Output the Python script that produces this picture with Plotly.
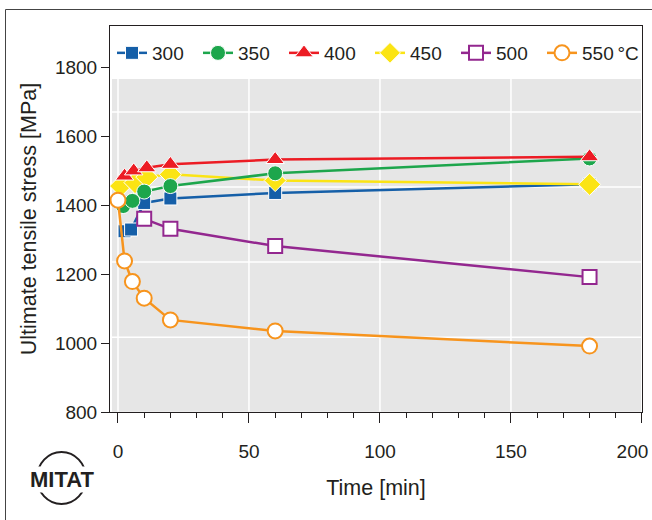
import plotly.graph_objects as go

# ---- data ----
t_300 = [2.5, 5, 10, 20, 60, 180]
v_300 = [1324, 1329, 1406, 1419, 1435, 1460]

t_350 = [2, 5.5, 10, 20, 60, 180]
v_350 = [1397, 1412, 1439, 1455, 1492, 1535]

t_400 = [2.5, 6, 11, 20, 60, 180]
v_400 = [1484, 1499, 1508, 1518, 1532, 1540]

t_450 = [1, 6.5, 11, 20, 60, 180]
v_450 = [1455, 1465, 1481, 1489, 1471, 1460]

t_500 = [10, 20, 60, 180]
v_500 = [1360, 1331, 1281, 1191]

t_550 = [0, 2.5, 5.5, 10, 20, 60, 180]
v_550 = [1414, 1238, 1178, 1130, 1067, 1035, 991]

legend_names = ["300", "350", "400", "450", "500", "550\u2009°C"]
y_ticks = [800, 1000, 1200, 1400, 1600, 1800]
x_ticks = [0, 50, 100, 150, 200]
x_ticktext = ["0", "50", "100", "150", "200\u2002\u2002"]
hgrid = [1017, 1235, 1452, 1670]
vgrid = [0, 50, 100, 150]

FONT = "Liberation Sans, Arial, Helvetica, sans-serif"
INK = "#231f20"

W, H = 652, 520
ML, MR, MT, MB = 110, 10, 26, 108
PW, PH = W - ML - MR, H - MT - MB


def px(xp):
    return (xp - ML) / PW


def py(yp):
    return (H - MB - yp) / PH


fig = go.Figure()

series = [
    # (name index, t, v, symbol, size, fill, line colour, marker line width)
    (0, t_300, v_300, "square", 13, "#155fa8", "#155fa8", 1),
    (3, t_450, v_450, "diamond", 17, "#fbe414", "#fbe414", 1),
    (1, t_350, v_350, "circle", 15, "#1da64c", "#1da64c", 1),
    (2, t_400, v_400, "triangle-up", 16, "#ec1c24", "#ec1c24", 1),
    (4, t_500, v_500, "square", 14, "white", "#93278f", 2),
    (5, t_550, v_550, "circle", 15, "white", "#f7941d", 2),
]

for idx, t, v, sym, size, fill, col, mlw in series:
    fig.add_trace(go.Scatter(
        x=t, y=v, name=legend_names[idx], legendrank=idx + 1,
        legend="legend2" if idx == 5 else "legend",
        mode="lines+markers",
        line=dict(color=col, width=2.5),
        marker=dict(symbol=sym, size=size, color=fill,
                    line=dict(color=col if fill == "white" else "white", width=mlw)),
    ))

shapes = []
# grey panel
shapes.append(dict(type="rect", xref="paper", yref="y", layer="below",
                   x0=px(112), x1=px(641), y0=801, y1=1765,
                   fillcolor="#e6e6e6", line=dict(width=0)))
for g in vgrid:
    shapes.append(dict(type="line", xref="x", yref="y", layer="below",
                       x0=g, x1=g, y0=801, y1=1765,
                       line=dict(color="white", width=1.5)))
for g in hgrid:
    shapes.append(dict(type="line", xref="paper", yref="y", layer="below",
                       x0=px(112), x1=px(641), y0=g, y1=g,
                       line=dict(color="white", width=1.5)))
# outer frame
shapes.append(dict(type="rect", xref="paper", yref="paper", layer="above",
                   x0=px(5.5), x1=px(700), y0=py(9.5), y1=py(560),
                   line=dict(color="#444", width=1)))
# logo ring
shapes.append(dict(type="circle", xref="paper", yref="paper", layer="above",
                   x0=px(37), x1=px(86), y0=py(452), y1=py(504),
                   line=dict(color=INK, width=2)))

legend_common = dict(orientation="h", xanchor="left", y=py(53), yanchor="middle",
                     bgcolor="rgba(0,0,0,0)", font=dict(size=19), itemwidth=30,
                     traceorder="normal")

fig.update_layout(
    width=W, height=H,
    margin=dict(l=ML, r=MR, t=MT, b=MB, autoexpand=False),
    paper_bgcolor="white", plot_bgcolor="white",
    font=dict(family=FONT, size=19, color=INK),
    shapes=shapes,
    showlegend=True,
    legend=dict(x=px(112), entrywidth=41, entrywidthmode="pixels", **legend_common),
    legend2=dict(x=px(542), **legend_common),
    annotations=[dict(text="<b>MITAT</b>", xref="paper", yref="paper",
                      x=px(62), y=py(479), xanchor="center", yanchor="middle",
                      showarrow=False,
                      font=dict(size=22, color=INK, family=FONT),
                      bgcolor="white", borderpad=0)],
)

fig.update_xaxes(
    range=[-3.05, 200.02], tickvals=x_ticks, ticktext=x_ticktext,
    ticks="outside", ticklen=10, tickwidth=1,
    tickcolor=INK, showline=True, linecolor=INK, linewidth=1, mirror=True,
    showgrid=False, zeroline=False, ticklabelstandoff=12, automargin=False,
    ticklabeloverflow="allow",
    minor=dict(dtick=10, ticks="outside", ticklen=5, tickcolor=INK, showgrid=False),
    title=dict(text="Time [min]", standoff=19, font=dict(size=21.5)),
)
fig.update_yaxes(
    range=[800, 1919], tickvals=y_ticks, ticks="outside", ticklen=8, tickwidth=1,
    tickcolor=INK, showline=True, linecolor=INK, linewidth=1, mirror=True,
    showgrid=False, zeroline=False, automargin=False,
    title=dict(text="Ultimate tensile stress [MPa]", standoff=12, font=dict(size=21.5)),
)

fig.write_html(
    "out.html",
    config={"displayModeBar": False},
    post_script="document.body.style.margin='0';document.body.style.overflow='hidden';",
)
